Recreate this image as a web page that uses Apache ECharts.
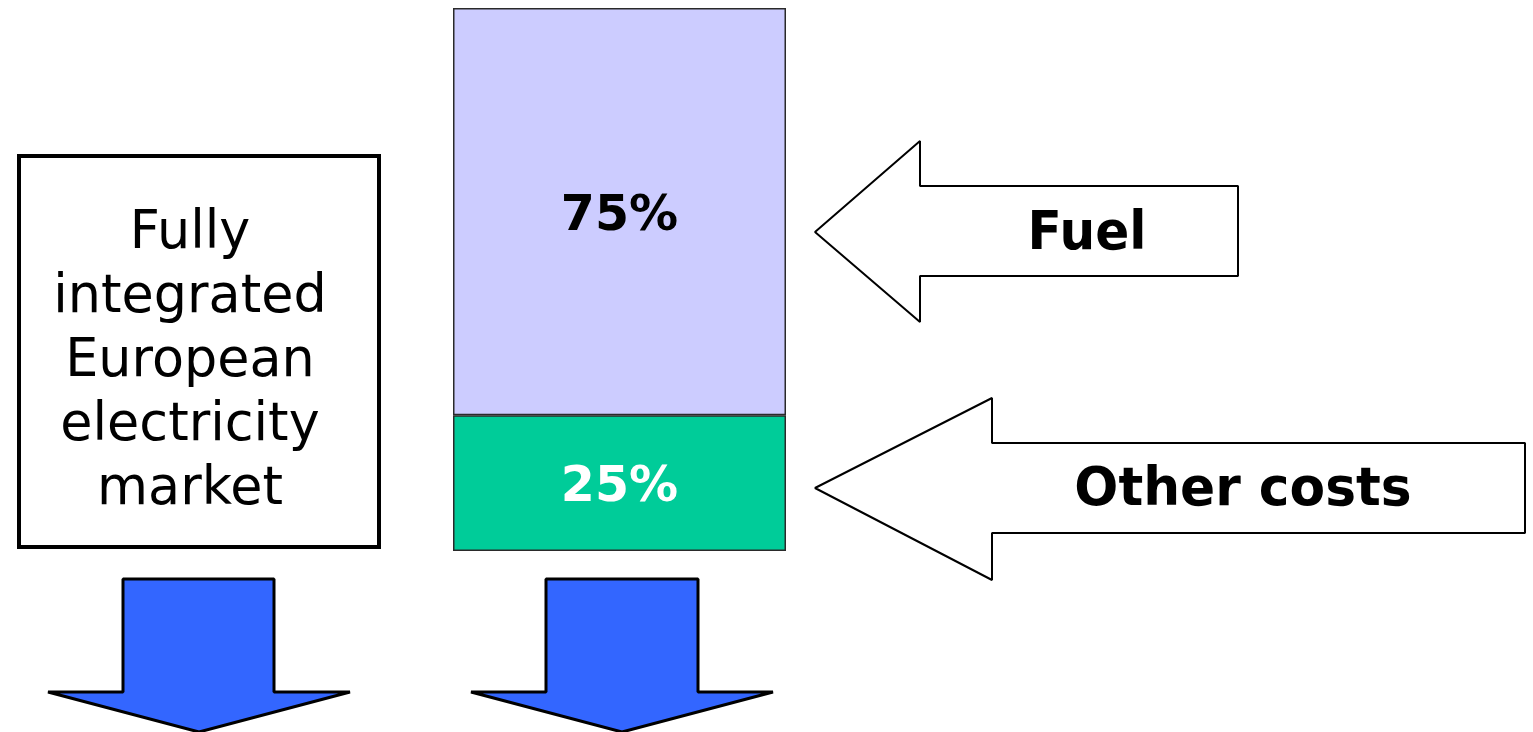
<!DOCTYPE html>
<html>
<head>
<meta charset="utf-8">
<script src="https://cdn.jsdelivr.net/npm/echarts@6/dist/echarts.min.js"></script>
<style>
html,body{margin:0;padding:0;background:#ffffff;}
#main{width:1533px;height:732px;}
</style>
</head>
<body>
<div id="main"></div>
<script>
// ---- data ----
const categories = ['Generation cost'];
const otherCostsShare = [25];
const fuelShare = [75];
const seriesNames = ['Other costs', 'Fuel'];
const boxLines = ['Fully', 'integrated', 'European', 'electricity', 'market'];
const arrowLabels = ['Fuel', 'Other costs'];

const FONT = '"DejaVu Sans", Verdana, sans-serif';
const chart = echarts.init(document.getElementById('main'), null, {renderer: 'canvas'});

function outlineArrow(points, stroke, fill, lw) {
  return {type: 'polygon', shape: {points: points}, style: {fill: fill, stroke: stroke, lineWidth: lw, lineJoin: 'bevel'}, silent: true};
}

const option = {
  backgroundColor: '#ffffff',
  animation: false,
  grid: {left: 453, top: 8, width: 333, height: 543, containLabel: false},
  xAxis: {type: 'category', data: categories, show: false},
  yAxis: {type: 'value', min: 0, max: 100, show: false},
  series: [
    {
      name: seriesNames[0], type: 'bar', stack: 'cost', data: otherCostsShare, barWidth: '100%',
      itemStyle: {color: '#00CC99', borderColor: '#2a2a2a', borderWidth: 1.5},
      label: {show: true, position: 'inside', formatter: '{c}%', color: '#ffffff', fontFamily: FONT, fontWeight: 'bold', fontSize: 49, offset: [0, 5]}
    },
    {
      name: seriesNames[1], type: 'bar', stack: 'cost', data: fuelShare, barWidth: '100%',
      itemStyle: {color: '#CCCCFF', borderColor: '#2a2a2a', borderWidth: 1.5},
      label: {show: true, position: 'inside', formatter: '{c}%', color: '#000000', fontFamily: FONT, fontWeight: 'bold', fontSize: 49, offset: [0, 6]}
    }
  ],
  graphic: [
    // left box
    {type: 'rect', shape: {x: 19, y: 156, width: 360, height: 391}, style: {fill: 'rgba(0,0,0,0)', stroke: '#000000', lineWidth: 4}, silent: true},
    {type: 'text', x: 190, y: 362, scaleX: 0.97, style: {text: boxLines.join('\n'), font: '54px ' + FONT, fill: '#000000', align: 'center', verticalAlign: 'middle', lineHeight: 64}, silent: true},
    // hollow arrows
    outlineArrow([[815,232],[920,141],[920,186],[1238,186],[1238,276],[920,276],[920,322]], '#000000', 'rgba(255,255,255,0)', 2),
    {type: 'text', x: 1087, y: 235, scaleX: 0.93, style: {text: arrowLabels[0], font: 'bold 54px ' + FONT, fill: '#000000', align: 'center', verticalAlign: 'middle'}, silent: true},
    outlineArrow([[815,488],[992,398],[992,443],[1525,443],[1525,533],[992,533],[992,580]], '#000000', 'rgba(255,255,255,0)', 2),
    {type: 'text', x: 1243, y: 491, scaleX: 0.96, style: {text: arrowLabels[1], font: 'bold 54px ' + FONT, fill: '#000000', align: 'center', verticalAlign: 'middle'}, silent: true},
    // blue down arrows
    outlineArrow([[123,579],[274,579],[274,692],[350,692],[199,732],[48,692],[123,692]], '#000000', '#3366FF', 3),
    outlineArrow([[546,579],[698,579],[698,692],[773,692],[622,732],[471,692],[546,692]], '#000000', '#3366FF', 3)
  ]
};
chart.setOption(option);
</script>
</body>
</html>
